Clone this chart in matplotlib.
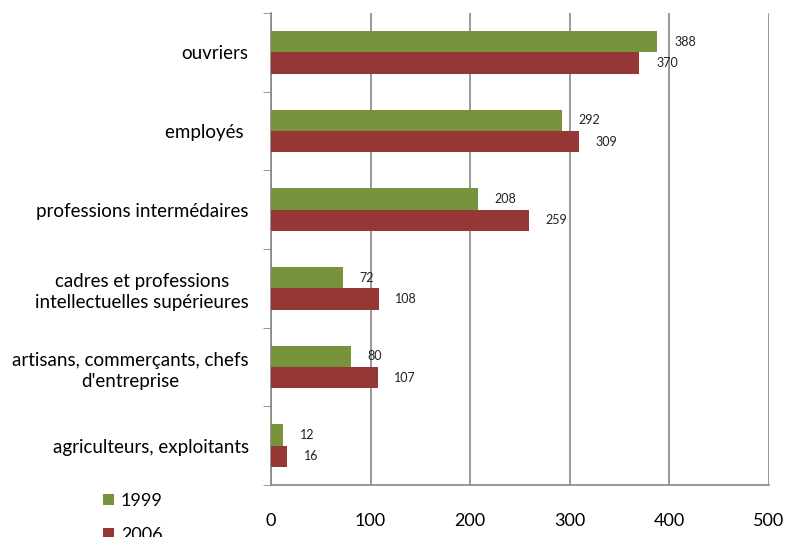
import matplotlib.pyplot as plt
import numpy as np

plt.rcParams['font.family'] = ['Lato', 'DejaVu Sans']

categories = ['agriculteurs, exploitants',
              "artisans, commerçants, chefs\nd'entreprise",
              'cadres et professions\nintellectuelles supérieures',
              'professions intermédaires',
              'employés ',
              'ouvriers']
v1999 = [12, 80, 72, 208, 292, 388]
v2006 = [16, 107, 108, 259, 309, 370]

fig = plt.figure(figsize=(7.87, 5.37), dpi=100)
ax = fig.add_axes([0.3443, 0.0968, 0.6328, 0.879])

y = np.arange(len(categories))
h = 0.27
green = '#77933C'
red = '#953735'
b1 = ax.barh(y + h / 2, v1999, height=h, color=green, label='1999', zorder=3)
b2 = ax.barh(y - h / 2, v2006, height=h, color=red, label='2006', zorder=3)

for bars, vals in ((b1, v1999), (b2, v2006)):
    for b, v in zip(bars, vals):
        ax.annotate(str(v), (v, b.get_y() + b.get_height() / 2),
                    xytext=(12, 0), textcoords='offset points',
                    va='center', ha='left', fontsize=9, color='#222222')

ax.set_xlim(0, 500)
ax.set_ylim(-0.5, len(categories) - 0.5)
ax.set_xticks(range(0, 501, 100))
ax.tick_params(axis='x', labelsize=13, length=0, pad=20)
ax.set_yticks(y)
ax.set_yticklabels(categories, fontsize=13.5, ha='right', multialignment='center',
                   linespacing=1.3)
ax.tick_params(axis='y', length=0, pad=16)
ax.set_yticks(np.arange(-0.5, len(categories), 1), minor=True)
ax.tick_params(axis='y', which='minor', length=6, color='#888888', direction='out')

ax.grid(axis='x', color='#888888', linewidth=1.2, zorder=0)
for s in ['top', 'right']:
    ax.spines[s].set_visible(False)
for s in ['left', 'bottom']:
    ax.spines[s].set_color('#888888')
    ax.spines[s].set_linewidth(1.2)

ax.legend(loc='upper left', bbox_to_anchor=(0.11, 0.112), bbox_transform=fig.transFigure,
          frameon=False, fontsize=13, handlelength=0.6, handleheight=0.6,
          labelspacing=1.0, handletextpad=0.4)

fig.savefig('out.png', dpi=100)
